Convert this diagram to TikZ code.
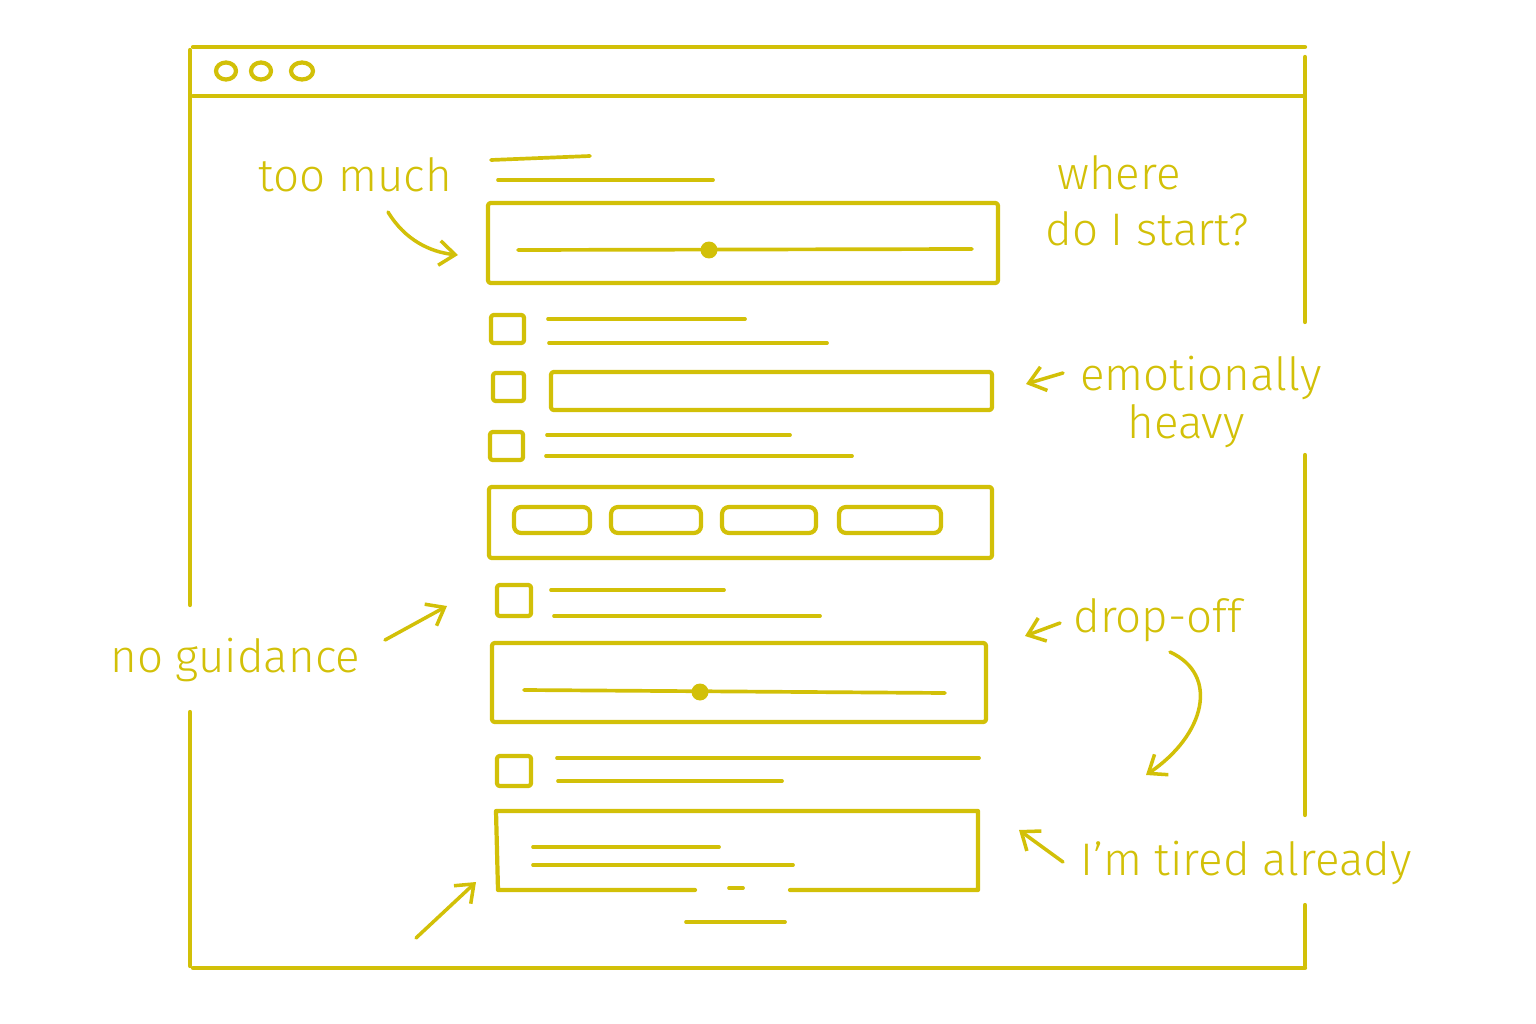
\documentclass[tikz,border=0pt]{standalone}
\usepackage{fontspec}
\setmainfont{Fira Sans Light}
\usetikzlibrary{arrows.meta}
\definecolor{ink}{HTML}{D2C008}
\tikzset{
  pen/.style={draw=ink, line width=2.4pt, line cap=round, line join=round},
  thin/.style={draw=ink, line width=2.1pt, line cap=round},
  boxx/.style={pen, rounded corners=1.5pt},
  btn/.style={pen, rounded corners=4pt},
  arr/.style={draw=ink, line width=2pt, line cap=round, -{Straight Barb[length=9pt,width=14pt,line width=2pt]}},
  note/.style={text=ink, font=\fontsize{26}{29}\selectfont, inner sep=0pt}
}
\begin{document}
\begin{tikzpicture}[x=0.02cm,y=-0.02cm]
\useasboundingbox (0,0) rectangle (1536,1024);
% browser frame
\draw[pen] (193,47) -- (1305,47);
\draw[pen] (193,96) -- (1303,96);
\draw[pen] (193,968) -- (1305,968);
\draw[pen] (190,50) -- (190,605);
\draw[pen] (190,712) -- (190,966);
\draw[pen] (1305,57) -- (1305,322);
\draw[pen] (1305,455) -- (1305,815);
\draw[pen] (1305,905) -- (1305,966);
\draw[pen] (226,71) ellipse [x radius=10, y radius=8.5];
\draw[pen] (261,71) ellipse [x radius=10, y radius=8.5];
\draw[pen] (302,71) ellipse [x radius=11, y radius=8.5];
% heading
\draw[thin] (491,160) -- (590,156);
\draw[thin] (498,180) -- (713,180);
% slider 1
\draw[boxx] (488,203) rectangle (998,283);
\draw[thin] (518,250) -- (972,249);
\node[circle, fill=ink, inner sep=0pt, minimum size=0.34cm] (k1) at (709,250) {};
% checkbox 1
\draw[boxx] (491,315) rectangle (524,343);
\draw[thin] (548,319) -- (745,319);
\draw[thin] (549,343) -- (827,343);
% checkbox 2 + field
\draw[boxx] (493,373) rectangle (524,401);
\draw[boxx] (551,372) rectangle (992,410);
% checkbox 3
\draw[boxx] (490,432) rectangle (523,460);
\draw[thin] (547,435) -- (790,435);
\draw[thin] (546,456) -- (852,456);
% segmented
\draw[boxx] (489,487) rectangle (992,558);
\draw[btn] (514,507) rectangle (590,533);
\draw[btn] (611,507) rectangle (701,533);
\draw[btn] (722,507) rectangle (816,533);
\draw[btn] (839,507) rectangle (941,533);
% checkbox 4
\draw[boxx] (497,585) rectangle (531,616);
\draw[thin] (551,590) -- (724,590);
\draw[thin] (554,616) -- (820,616);
% slider 2
\draw[boxx] (492,643) rectangle (986,722);
\draw[thin] (524,690) -- (945,693);
\node[circle, fill=ink, inner sep=0pt, minimum size=0.34cm] (k2) at (700,692) {};
% checkbox 5
\draw[boxx] (497,756) rectangle (531,786);
\draw[thin] (557,758) -- (979,758);
\draw[thin] (558,781) -- (782,781);
% text area
\draw[pen] (695,890) -- (498,890) -- (496,811) -- (978,811) -- (978,890) -- (790,890);
\draw[thin] (533,847) -- (719,847);
\draw[thin] (533,865) -- (793,865);
\draw[thin] (729,888) -- (743,888);
\draw[thin] (686,922) -- (785,922);
% labels
\node[note, anchor=base west] (tm) at (258,192) {too much};
\node[note, anchor=base west] (wh) at (1057,190) {where};
\node[note, anchor=base west] (ds) at (1045,245) {do I start?};
\node[note, anchor=base west] (em) at (1080,390) {emotionally};
\node[note, anchor=base west] (hv) at (1127,438) {heavy};
\node[note, anchor=base west] (ng) at (110,672) {no guidance};
\node[note, anchor=base west] (dr) at (1073,632) {drop-off};
\node[note, anchor=base west] (ta) at (1080,875) {I'm tired already};
% arrows
\coordinate (a1s) at (388,212); \coordinate (a1e) at (458,255);
\draw[arr] (a1s) .. controls (405,240) and (430,252) .. (a1e);
\coordinate (a2s) at (1063,373); \coordinate (a2e) at (1026,384);
\draw[arr] (a2s) -- (a2e);
\coordinate (a3s) at (385,640); \coordinate (a3e) at (447,606);
\draw[arr] (a3s) -- (a3e);
\coordinate (a4s) at (416,938); \coordinate (a4e) at (476,882);
\draw[arr] (a4s) -- (a4e);
\coordinate (a5s) at (1060,623); \coordinate (a5e) at (1025,636);
\draw[arr] (a5s) -- (a5e);
\coordinate (a6s) at (1170,652); \coordinate (a6e) at (1146,775);
\draw[arr] (a6s) .. controls (1220,675) and (1205,735) .. (a6e);
\coordinate (a7s) at (1063,862); \coordinate (a7e) at (1019,830);
\draw[arr] (a7s) -- (a7e);
\end{tikzpicture}
\end{document}
